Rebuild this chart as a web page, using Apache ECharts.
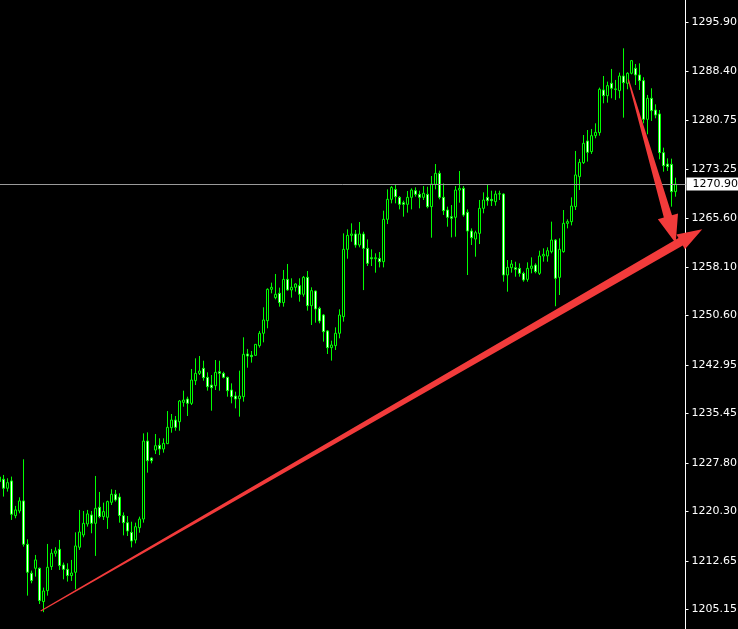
<!DOCTYPE html>
<html>
<head>
<meta charset="utf-8">
<script src="https://cdn.jsdelivr.net/npm/echarts@6/dist/echarts.min.js"></script>
<style>
html,body{margin:0;padding:0;background:#000;}
#chart{width:738px;height:629px;}
</style>
</head>
<body>
<div id="chart"></div>
<script>
// OHLC of each bar, oldest first (first bar is partly cut off on the left)
const opens = [
1225.6,1225.25,1223.86,1224.99,1219.63,1220.35,1221.9,1215.2,1210.72,1211.49,
1211.49,1206.34,1208.03,1211.75,1213.81,1214.43,1212.0,1211.33,1210.36,1210.87,
1214.74,1216.64,1218.34,1219.73,1218.44,1220.92,1219.48,1219.37,1221.69,1222.93,
1222.5,1219.62,1218.54,1217.04,1215.86,1217.76,1219.1,1231.16,1228.53,1229.77,
1230.5,1229.93,1230.75,1233.23,1234.41,1234.15,1237.14,1237.66,1236.99,1240.49,
1241.63,1242.4,1241.01,1239.82,1239.72,1241.88,1241.63,1241.01,1239.05,1238.12,
1237.71,1238.02,1244.62,1244.41,1244.41,1245.91,1247.82,1249.77,1254.62,1253.33,
1254.0,1252.56,1256.16,1254.52,1254.93,1255.18,1253.85,1256.47,1252.09,1254.36,
1251.68,1250.65,1248.18,1245.6,1245.91,1247.82,1250.39,1260.8,1262.96,1263.17,
1261.47,1263.17,1260.95,1259.51,1259.35,1259.4,1258.89,1265.44,1268.53,1270.07,
1268.84,1268.01,1267.76,1268.84,1269.87,1269.3,1268.84,1269.3,1267.4,1270.85,
1272.55,1268.84,1266.88,1265.85,1265.75,1269.97,1270.23,1266.52,1263.63,1262.39,
1263.27,1267.14,1268.84,1268.53,1268.17,1269.35,1269.35,1256.83,1257.96,1257.96,
1257.86,1257.09,1256.16,1257.86,1258.37,1257.09,1259.77,1259.77,1260.44,1262.24,
1256.47,1260.44,1264.82,1265.08,1267.4,1272.04,1274.2,1277.55,1275.91,1278.38,
1278.84,1285.44,1284.56,1286.47,1285.6,1285.34,1287.6,1286.47,1288.02,1288.79,
1287.76,1286.88,1280.9,1284.15,1282.34,1281.73,1275.75,1273.99,1273.94,1269.72
];
const highs = [
1226.0,1225.92,1225.4,1225.66,1221.13,1222.46,1228.34,1215.97,1211.13,1213.55,
1211.59,1208.5,1215.25,1214.48,1214.74,1215.87,1212.37,1212.26,1212.78,1217.05,
1220.51,1220.35,1220.51,1220.35,1225.76,1223.29,1221.64,1221.95,1223.7,1223.6,
1223.08,1220.13,1219.57,1218.69,1218.54,1219.47,1232.35,1232.5,1228.64,1232.25,
1231.58,1231.58,1235.8,1235.34,1235.03,1237.5,1238.95,1238.02,1242.3,1243.95,
1244.31,1243.58,1241.78,1241.37,1243.69,1243.58,1241.88,1241.11,1240.08,1238.79,
1242.04,1247.2,1245.4,1245.08,1246.16,1248.18,1251.84,1254.77,1255.65,1256.99,
1254.88,1257.61,1258.54,1256.32,1255.55,1256.32,1256.68,1257.45,1254.93,1254.41,
1251.94,1250.8,1248.33,1246.68,1248.74,1251.53,1263.27,1263.89,1264.82,1263.79,
1265.02,1263.53,1262.34,1260.8,1260.18,1260.38,1266.78,1270.07,1270.59,1270.74,
1269.04,1268.32,1269.82,1270.23,1270.38,1269.87,1270.59,1270.49,1272.14,1273.99,
1272.96,1271.0,1267.4,1267.65,1270.59,1272.91,1270.59,1266.98,1264.04,1263.68,
1268.43,1269.61,1270.9,1269.87,1269.87,1269.87,1269.46,1259.15,1259.15,1258.89,
1258.63,1257.35,1258.79,1259.56,1258.63,1260.59,1260.95,1261.11,1265.08,1262.39,
1262.5,1266.88,1265.44,1268.84,1276.01,1274.77,1278.48,1279.25,1279.41,1280.28,
1285.8,1287.6,1286.73,1288.69,1286.99,1288.12,1291.88,1288.17,1290.08,1289.46,
1289.56,1287.4,1284.67,1285.7,1283.22,1282.34,1276.52,1274.87,1274.82,1271.88
];
const lows = [
1224.4,1222.57,1223.34,1218.96,1219.22,1219.99,1214.84,1207.26,1209.17,1210.2,
1205.97,1204.7,1207.26,1211.23,1213.29,1211.23,1209.78,1209.43,1209.53,1208.24,
1214.33,1216.28,1217.93,1216.9,1213.4,1219.22,1218.96,1217.57,1221.28,1221.8,
1218.54,1216.58,1216.48,1214.72,1215.34,1216.99,1218.54,1226.27,1227.71,1229.15,
1228.99,1229.36,1230.7,1232.45,1232.76,1232.76,1236.47,1235.03,1236.73,1239.82,
1241.37,1240.49,1238.95,1235.85,1239.05,1238.95,1240.85,1238.02,1236.99,1236.21,
1234.93,1237.25,1242.5,1243.28,1244.36,1245.6,1246.42,1248.59,1254.0,1253.07,
1251.94,1251.94,1254.41,1253.33,1254.26,1252.71,1253.48,1251.32,1249.1,1249.46,
1249.36,1246.53,1244.62,1243.59,1245.24,1247.04,1249.62,1259.35,1261.98,1261.06,
1261.11,1254.5,1258.22,1258.22,1257.19,1258.01,1258.01,1264.71,1267.91,1267.91,
1266.98,1265.85,1266.47,1266.98,1268.94,1267.14,1268.43,1267.14,1262.6,1270.07,
1268.53,1266.11,1264.3,1262.65,1262.75,1268.01,1265.85,1256.83,1261.47,1259.66,
1261.62,1266.37,1267.55,1267.5,1267.55,1268.43,1255.8,1254.25,1257.19,1256.57,
1256.57,1255.8,1255.8,1257.09,1257.09,1256.83,1258.89,1258.89,1260.18,1252.0,
1253.74,1260.28,1264.04,1264.5,1266.88,1269.97,1274.0,1274.36,1275.55,1277.97,
1278.38,1283.38,1283.48,1284.15,1283.9,1284.15,1281.16,1285.54,1287.86,1286.21,
1285.44,1280.28,1278.59,1280.65,1281.06,1274.72,1272.81,1272.92,1267.4,1268.94
];
const closes = [
1224.9,1223.86,1224.73,1219.84,1220.51,1221.9,1215.2,1210.87,1209.58,1212.78,
1206.49,1207.98,1211.64,1213.81,1214.17,1211.9,1211.33,1210.36,1210.76,1214.94,
1217.1,1218.44,1219.89,1218.44,1220.76,1219.48,1220.25,1221.8,1222.93,1222.05,
1219.65,1218.54,1217.25,1215.7,1217.92,1219.1,1231.16,1228.12,1228.12,1230.44,
1229.93,1230.8,1233.28,1234.41,1233.28,1237.35,1237.5,1236.99,1240.6,1241.63,
1241.99,1240.96,1239.56,1239.41,1241.78,1241.63,1241.01,1238.95,1238.02,1237.66,
1238.12,1244.57,1244.3,1244.21,1246.11,1247.82,1249.88,1254.62,1254.93,1253.85,
1252.56,1256.16,1254.52,1254.93,1255.44,1253.85,1256.47,1252.09,1254.41,1251.58,
1249.72,1248.07,1245.6,1246.01,1247.82,1250.65,1260.8,1262.96,1263.17,1261.47,
1263.17,1260.95,1258.63,1259.35,1259.5,1258.89,1265.44,1268.53,1270.38,1268.94,
1267.76,1267.76,1268.84,1269.97,1269.3,1268.84,1269.46,1267.4,1270.9,1272.55,
1268.84,1266.78,1265.75,1265.6,1269.97,1270.23,1266.11,1263.63,1262.6,1263.37,
1267.14,1268.43,1268.32,1268.32,1269.35,1269.4,1256.83,1258.01,1258.53,1257.71,
1257.09,1256.06,1257.86,1258.22,1257.35,1259.77,1260.03,1260.59,1262.24,1256.32,
1260.8,1264.82,1265.08,1267.5,1272.3,1274.25,1277.19,1275.8,1278.38,1278.89,
1285.54,1284.56,1286.11,1285.7,1285.54,1287.6,1286.57,1288.02,1289.97,1287.76,
1286.88,1280.9,1284.15,1282.24,1281.57,1275.75,1273.74,1273.58,1269.72,1270.90
];
// price scale tick labels (right axis)
const tickLabels = [1205.15,1212.65,1220.30,1227.80,1235.45,1242.95,1250.60,1258.10,1265.60,1273.25,1280.75,1288.40,1295.90];
const lastPrice = 1270.90;
const extraSlots = 2; // empty shift space at right
const categories = Array.from({length: opens.length + extraSlots}, (_, i) => 'bar' + i);
// hand-drawn arrows, in (bar index, price) space
const arrows = [
  {from: [10.3, 1204.88], to: [175.7, 1263.90]},
  {from: [157.2, 1287.09], to: [169.05, 1261.73]}
];
const arrowStyle = [
  {tailW: 1.2, shaftW: 8.5, headW: 17, headL: 25},
  {tailW: 1.2, shaftW: 8.5, headW: 21, headL: 28}
];

const candleData = opens.map((o, i) => [o, closes[i], lows[i], highs[i]]);
const FONT = 'DejaVu Sans';

const chart = echarts.init(document.getElementById('chart'), null, {renderer: 'canvas'});
chart.setOption({
  backgroundColor: '#000000',
  animation: false,
  grid: {left: -2.5, right: 52.5, top: 0, bottom: 0, containLabel: false, outerBoundsMode: 'none'},
  xAxis: {
    type: 'category', data: categories, boundaryGap: true, show: false
  },
  yAxis: {
    type: 'value', position: 'right', min: 1202.10, max: 1299.35, scale: true,
    axisLine: {show: true, lineStyle: {color: '#ffffff', width: 1}},
    axisTick: {show: true, length: 3, inside: false, customValues: tickLabels, lineStyle: {color: '#ffffff'}},
    axisLabel: {
      show: true, customValues: tickLabels, margin: 6, color: '#ffffff',
      fontFamily: FONT, fontSize: 11,
      formatter: v => Number(v).toFixed(2)
    },
    splitLine: {show: false}
  },
  series: [{
    type: 'candlestick',
    data: candleData,
    barWidth: 2,
    itemStyle: {
      color: '#000000', color0: '#ffffff',
      borderColor: '#00ff00', borderColor0: '#00ff00', borderColorDoji: '#00ff00',
      borderWidth: 1
    },
    markLine: {
      silent: true, symbol: ['none', 'none'], animation: false,
      lineStyle: {color: '#9a9a9a', width: 1, type: 'solid'},
      label: {
        show: true, position: 'end', distance: 1, formatter: lastPrice.toFixed(2),
        backgroundColor: '#ffffff', color: '#000000', fontFamily: FONT, fontSize: 11,
        padding: [1, 1, 1, 6]
      },
      data: [{yAxis: lastPrice}]
    }
  }]
});

function toPx(idx, price) {
  const p0 = chart.convertToPixel({xAxisIndex: 0, yAxisIndex: 0}, [0, price]);
  const p1 = chart.convertToPixel({xAxisIndex: 0, yAxisIndex: 0}, [1, price]);
  return [p0[0] + idx * (p1[0] - p0[0]), p0[1]];
}
function arrowPoly(a, s) {
  const S = toPx(a.from[0], a.from[1]);
  const T = toPx(a.to[0], a.to[1]);
  const dx = T[0] - S[0], dy = T[1] - S[1];
  const len = Math.hypot(dx, dy);
  const ux = dx / len, uy = dy / len;
  const nx = -uy, ny = ux;
  const B = [T[0] - ux * s.headL, T[1] - uy * s.headL];
  const P = (base, w) => [base[0] + nx * w, base[1] + ny * w];
  return [
    P(S, s.tailW / 2), P(B, s.shaftW / 2), P(B, s.headW / 2), T,
    P(B, -s.headW / 2), P(B, -s.shaftW / 2), P(S, -s.tailW / 2)
  ];
}
chart.setOption({
  graphic: arrows.map((a, i) => ({
    type: 'polygon', z: 100, silent: true,
    shape: {points: arrowPoly(a, arrowStyle[i])},
    style: {fill: '#f23b3b', stroke: null}
  }))
});
</script>
</body>
</html>
